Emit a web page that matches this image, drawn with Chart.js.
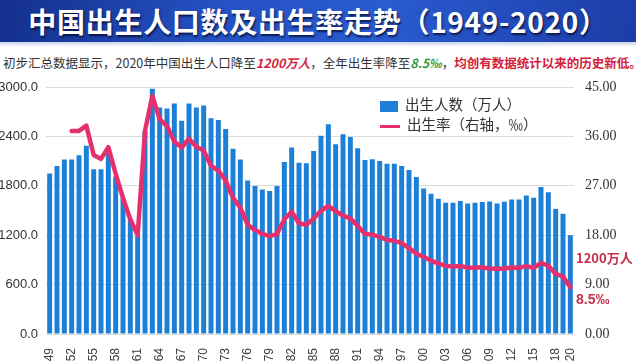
<!DOCTYPE html>
<html>
<head>
<meta charset="utf-8">
<script src="https://cdn.jsdelivr.net/npm/chart.js@4.4.1/dist/chart.umd.min.js"></script>
<style>
  body { margin: 0; width: 636px; height: 361px; overflow: hidden; background: #fff; position: relative; font-family: "Noto Sans CJK SC", sans-serif; }
  #header { position: absolute; left: 0; top: 0; width: 636px; height: 42px;
            background: linear-gradient(100deg, #142f8c 0%, #2552c4 35%, #2a5bd0 60%, #1b3da6 100%); }
  #header .t { position: absolute; left: 0; top: 0; width: 636px; text-align: center; line-height: 42px;
               color: #fff; font-weight: bold; font-size: 28px; letter-spacing: 0.7px;
               text-shadow: 1px 2px 2px rgba(0,0,30,0.7); }
  #band { position: absolute; left: 0; top: 42px; width: 636px; height: 5px; background: linear-gradient(#c9d3ea, #fff); }
  #sub { position: absolute; left: 3px; top: 53px; white-space: nowrap; font-size: 12.5px; color: #333; }
  #sub .r { color: #d4283c; font-style: italic; font-weight: bold; }
  #sub .g { color: #2f9a3c; font-style: italic; font-weight: bold; }
  #sub .rb { color: #d4203a; font-weight: bold; }
  #chart { position: absolute; left: 0; top: 0; }
  .lg { position: absolute; left: 380px; font-size: 14.5px; color: #333; white-space: nowrap; }
  .lg .sw { display: inline-block; vertical-align: middle; margin-right: 7px; }
</style>
</head>
<body>
<div id="header"><div class="t">中国出生人口数及出生率走势（1949-2020）</div></div>
<div id="band"></div>
<div id="sub">初步汇总数据显示，2020年中国出生人口降至<span class="r">1200万人</span>，全年出生率降至<span class="g">8.5‰</span>，<span class="rb">均创有数据统计以来的历史新低。</span></div>
<canvas id="chart" width="636" height="361"></canvas>
<div class="lg" style="top:93px"><span class="sw" style="width:18px;height:11px;background:#1c80d8"></span>出生人数（万人）</div>
<div class="lg" style="top:113px"><span class="sw" style="width:20px;height:3px;background:#e6306e"></span>出生率（右轴，‰）</div>
<script>
// 年份
var years = [1949, 1950, 1951, 1952, 1953, 1954, 1955, 1956, 1957, 1958,
             1959, 1960, 1961, 1962, 1963, 1964, 1965, 1966, 1967, 1968,
             1969, 1970, 1971, 1972, 1973, 1974, 1975, 1976, 1977, 1978,
             1979, 1980, 1981, 1982, 1983, 1984, 1985, 1986, 1987, 1988,
             1989, 1990, 1991, 1992, 1993, 1994, 1995, 1996, 1997, 1998,
             1999, 2000, 2001, 2002, 2003, 2004, 2005, 2006, 2007, 2008,
             2009, 2010, 2011, 2012, 2013, 2014, 2015, 2016, 2017, 2018,
             2019, 2020];

// 出生人数（万人）
var births = [1950, 2040, 2120, 2120, 2170, 2285, 2000, 2000, 2200, 1913,
              1650, 1389, 1190, 2464, 2980, 2750, 2740, 2800, 2590, 2800,
              2750, 2775, 2620, 2600, 2490, 2250, 2120, 1865, 1797, 1756,
              1736, 1797, 2090, 2264, 2081, 2073, 2224, 2407, 2549, 2305,
              2427, 2394, 2256, 2114, 2122, 2102, 2069, 2069, 2041, 1992,
              1907, 1768, 1703, 1642, 1594, 1594, 1614, 1585, 1594, 1602,
              1610, 1585, 1606, 1634, 1634, 1683, 1655, 1784, 1723, 1520,
              1460, 1200];

// 出生率（‰）
var birthRate = [null, null, null, 37.0, 37.0, 37.97, 32.6, 31.9, 34.03, 29.22,
                 24.78, 20.86, 18.02, 37.01, 43.37, 39.14, 37.88, 35.05, 33.96, 35.59,
                 34.11, 33.43, 30.65, 29.77, 27.93, 24.82, 23.01, 19.91, 18.93, 18.25,
                 17.82, 18.21, 20.91, 22.28, 20.19, 19.9, 21.04, 22.43, 23.33, 22.37,
                 21.58, 21.06, 19.68, 18.24, 18.09, 17.7, 17.12, 16.98, 16.57, 15.64,
                 14.64, 14.03, 13.38, 12.86, 12.41, 12.29, 12.4, 12.09, 12.1, 12.14,
                 11.95, 11.9, 11.93, 12.1, 12.08, 12.37, 12.07, 12.95, 12.43, 10.94,
                 10.48, 8.5];

var leftTicks = [0, 600, 1200, 1800, 2400, 3000];
var rightTicks = [0, 9, 18, 27, 36, 45];

var x = years.map(function (y) { return String(y).slice(2); });

// 右侧 2020 年的标注
var endNotes = {
    id: 'endNotes',
    afterDraw: function (chart) {
        var ctx = chart.ctx;
        var xr = chart.chartArea.right + 2;
        var last = years.length - 1;
        ctx.save();
        ctx.fillStyle = '#c4304a';
        ctx.textBaseline = 'middle';
        ctx.textAlign = 'left';
        ctx.font = 'bold 13px "Noto Sans CJK SC"';
        ctx.fillText('1200万人', xr, chart.scales.y.getPixelForValue(births[last]) + 23);
        ctx.font = 'bold 14px "Liberation Sans"';
        ctx.fillText('8.5‰', xr, chart.scales.y1.getPixelForValue(birthRate[last]) + 13);
        ctx.restore();
    }
};

var ctx = document.getElementById('chart').getContext('2d');
var myChart = new Chart(ctx, {
    data: {
        labels: x,
        datasets: [{
            type: 'line',
            label: '出生率（右轴，‰）',
            data: birthRate,
            yAxisID: 'y1',
            borderColor: '#e6306e',
            borderWidth: 4.5,
            pointRadius: 0,
            tension: 0,
            borderJoinStyle: 'round',
            borderCapStyle: 'round',
            order: 1
        }, {
            type: 'bar',
            label: '出生人数（万人）',
            data: births,
            yAxisID: 'y',
            backgroundColor: '#1c80d8',
            categoryPercentage: 1.0,
            barPercentage: 0.68,
            order: 2
        }]
    },
    options: {
        responsive: false,
        animation: false,
        layout: { padding: { top: 87, left: 0, right: 0, bottom: 0 } },
        plugins: { legend: { display: false }, tooltip: { enabled: false } },
        scales: {
            x: {
                grid: { display: false },
                border: { display: false },
                ticks: {
                    autoSkip: false, minRotation: 90, maxRotation: 90, padding: 6,
                    color: '#404040', font: { family: 'Liberation Sans', size: 12 },
                    callback: function (v, i) { return (i % 3 === 0 || i === years.length - 1) ? x[i] : ''; }
                },
                afterFit: function (s) { s.height = 27; }
            },
            y: {
                position: 'left',
                min: 0, max: 3000,
                afterBuildTicks: function (s) { s.ticks = leftTicks.map(function (v) { return { value: v }; }); },
                grid: { color: '#dcdcdc', drawTicks: false },
                border: { display: false },
                ticks: {
                    padding: 8, color: '#333',
                    font: { family: 'Liberation Sans', size: 13 },
                    callback: function (v) { return v.toFixed(1); }
                },
                afterFit: function (s) { s.width = 46; }
            },
            y1: {
                position: 'right',
                min: 0, max: 45,
                afterBuildTicks: function (s) { s.ticks = rightTicks.map(function (v) { return { value: v }; }); },
                grid: { display: false },
                border: { display: false },
                ticks: {
                    padding: 3, color: '#333',
                    font: { family: 'Liberation Serif', size: 14 },
                    callback: function (v) { return v.toFixed(2); }
                },
                afterFit: function (s) { s.width = 62; }
            }
        }
    },
    plugins: [endNotes]
});
</script>
</body>
</html>
